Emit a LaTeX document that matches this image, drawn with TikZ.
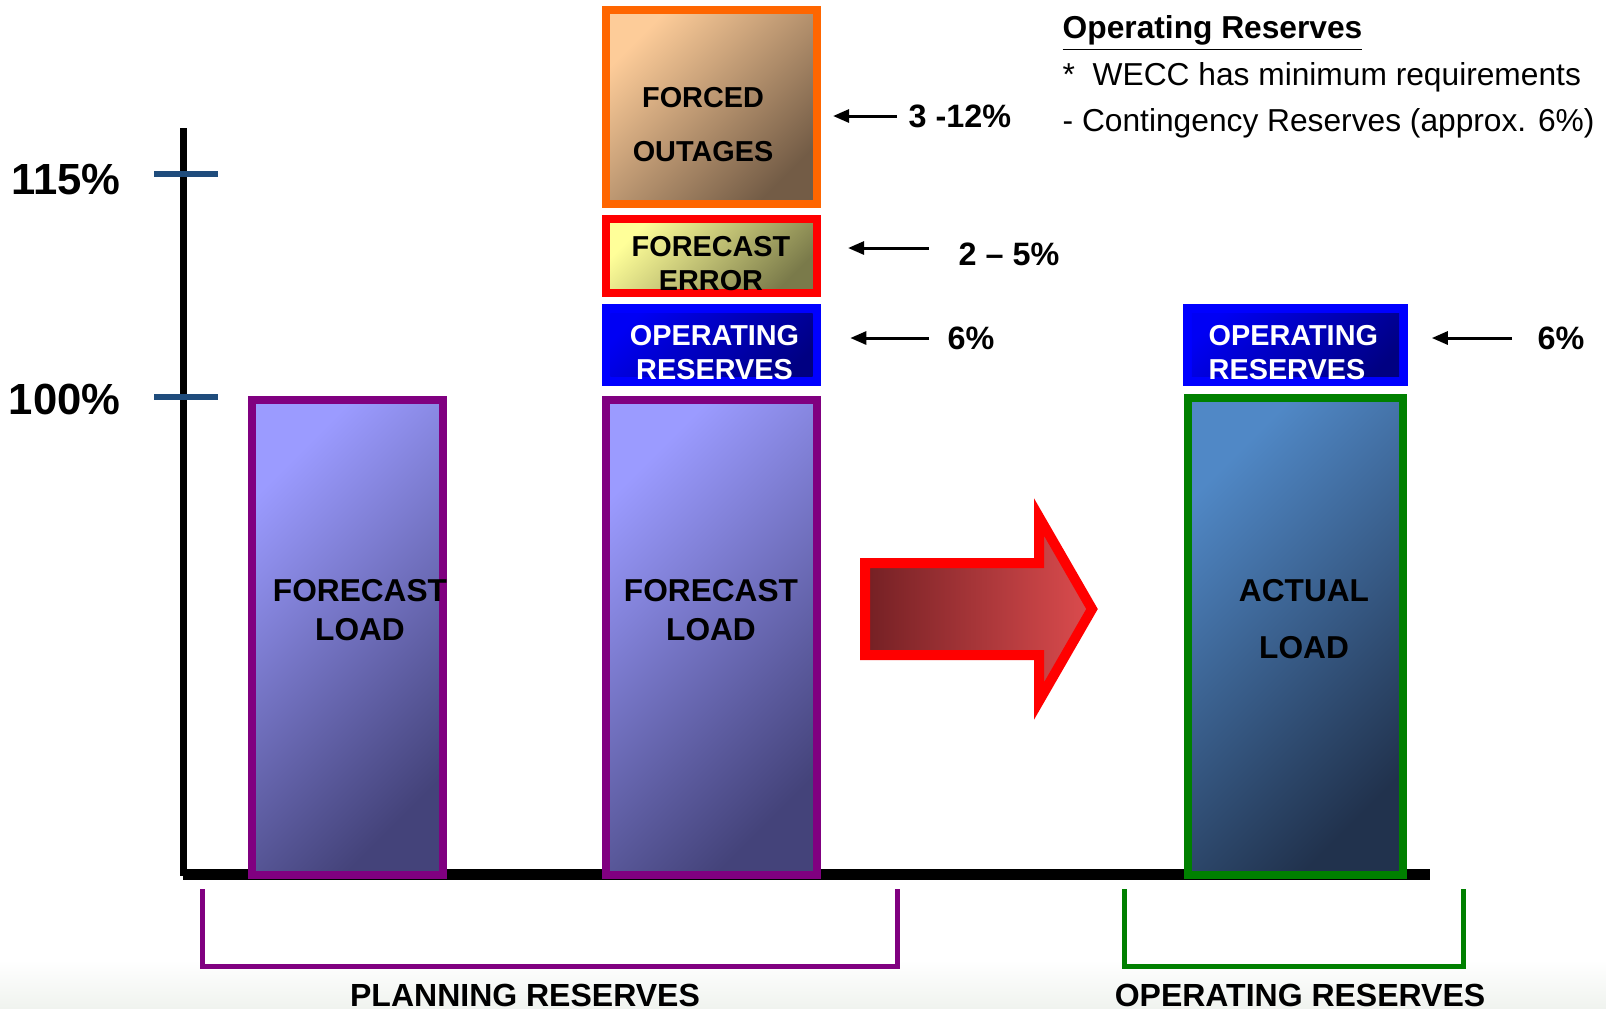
\documentclass[tikz,border=0pt]{standalone}
\usepackage{fontspec}
\setmainfont{Liberation Sans}
\usetikzlibrary{arrows.meta}

\definecolor{plum}{HTML}{800080}
\definecolor{darkgreen}{HTML}{008000}
\definecolor{outage}{HTML}{FF6600}
\definecolor{tickblue}{HTML}{1F4C7C}
\definecolor{flLight}{HTML}{9B9BFF}
\definecolor{flDark}{HTML}{44437A}
\definecolor{alLight}{HTML}{5088C6}
\definecolor{alDark}{HTML}{21324D}
\definecolor{foLight}{HTML}{FDCC99}
\definecolor{foDark}{HTML}{735C46}
\definecolor{feLight}{HTML}{FFFF99}
\definecolor{feDark}{HTML}{7A7A4A}
\definecolor{orLight}{HTML}{0000F4}
\definecolor{orDark}{HTML}{000082}
\definecolor{arDark}{HTML}{742024}
\definecolor{arLight}{HTML}{DC4C4E}
\definecolor{floor}{HTML}{F0F3EF}

\tikzset{
  box/.style={draw, line width=0.08cm, inner sep=0pt},
  loadbar/.style={box, draw=plum, top color=flLight, bottom color=flDark, shading angle=45,
    minimum width=1.91cm, minimum height=4.75cm},
  actualbar/.style={box, draw=darkgreen, top color=alLight, bottom color=alDark, shading angle=45,
    minimum width=2.15cm, minimum height=4.77cm},
  outagebox/.style={box, draw=outage, top color=foLight, bottom color=foDark, shading angle=45,
    minimum width=2.11cm, minimum height=1.94cm},
  errorbox/.style={box, draw=red, top color=feLight, bottom color=feDark, shading angle=45,
    minimum width=2.11cm, minimum height=0.74cm},
  opbox/.style={draw=blue, fill=blue, line width=0.015cm, inner sep=0pt,
    minimum width=2.18cm, minimum height=0.80cm,
    path picture={\shade[top color=orLight, bottom color=orDark, shading angle=45]
      ([xshift=0.08cm,yshift=0.09cm]path picture bounding box.south west) rectangle
      ([xshift=-0.08cm,yshift=-0.09cm]path picture bounding box.north east);}},
  bigarrow/.style={draw=red, line width=0.10cm, left color=arDark, right color=arLight},
  boxtext/.style={align=center, inner sep=0pt, font=\bfseries\fontsize{8.2}{9.7}\selectfont},
  bartext/.style={align=center, inner sep=0pt, font=\bfseries\fontsize{9}{11.1}\selectfont},
  pct/.style={anchor=west, inner sep=0pt, font=\bfseries\fontsize{9.2}{11}\selectfont},
  pctarrow/.style={-{Triangle[length=0.16cm,width=0.13cm]}, line width=0.03cm},
  ticklabel/.style={anchor=east, inner sep=0pt, font=\bfseries\fontsize{12.4}{15}\selectfont},
  note/.style={anchor=base west, inner sep=0pt, font=\fontsize{9.02}{11}\selectfont},
  bracket/.style={line width=0.05cm},
  groupname/.style={anchor=base, inner sep=0pt, font=\bfseries\fontsize{9.1}{11}\selectfont}
}

\begin{document}
\begin{tikzpicture}[x=0.01cm, y=-0.01cm]
  \useasboundingbox (0,0) rectangle (1606,1008);
  \shade[top color=white, bottom color=floor] (0,960) rectangle (1606,1008);

  % axes and ticks
  \coordinate (O) at (183,876);
  \coordinate (ytop) at (183,128);
  \coordinate (xend) at (1430,874);
  \draw[line width=0.07cm] (ytop) -- (O);
  \draw[line width=0.11cm] (O |- xend) -- (xend);
  \draw[tickblue, line width=0.06cm] (154,174) -- (218,174);
  \draw[tickblue, line width=0.06cm] (154,397) -- (218,397);
  \node[ticklabel] (l115) at (121,180) {115\%};
  \node[ticklabel] (l100) at (121,399) {100\%};

  % bars
  \node[loadbar] (fl1) at (347.5,637.5) {};
  \node[loadbar, minimum width=2.11cm] (fl2) at (711.5,637.5) {};
  \node[opbox] (or2) at (711.5,345) {};
  \node[errorbox] (fe) at (711.5,256) {};
  \node[outagebox] (fo) at (711.5,107) {};
  \node[actualbar] (al) at (1295.5,636.5) {};
  \node[opbox, minimum width=2.23cm] (or3) at (1295.5,345) {};

  \node[bartext] (fl1txt) at (360,610.5) {FORECAST\\LOAD};
  \node[bartext] (fl2txt) at (711,610.5) {FORECAST\\LOAD};
  \node[bartext, font=\bfseries\fontsize{9}{16.2}\selectfont] (altxt) at (1304,619.5) {ACTUAL\\LOAD};
  \node[boxtext, text=white] (or2txt) at (714.5,352.5) {OPERATING\\RESERVES};
  \node[boxtext, text=white, align=left, anchor=west] (or3txt) at (1208,352.5) {OPERATING\\RESERVES};
  \node[boxtext] (fetxt) at (711,264) {FORECAST\\ERROR};
  \node[boxtext, font=\bfseries\fontsize{8.2}{15.4}\selectfont] (fotxt) at (703,124.5) {FORCED\\OUTAGES};

  % shift from plan to operation
  \draw[bigarrow] (865,563) -- (1039,563) -- (1039,517) -- (1092,609)
    -- (1039,701) -- (1039,655) -- (865,655) -- cycle;

  % percentages
  \node[pct] (pfo) at (908,116) {3 -12\%};
  \node[pct] (pfe) at (958,254) {2 -- 5\%};
  \node[pct] (por2) at (947,338) {6\%};
  \node[pct] (por3) at (1537,338) {6\%};
  \draw[pctarrow, shorten <=0.11cm, shorten >=0.12cm] (pfo.west) -- (pfo.west -| fo.east);
  \draw[pctarrow, shorten <=0.29cm, shorten >=0.27cm]
    ([yshift=0.06cm]pfe.west) -- ([yshift=0.06cm]pfe.west -| fe.east);
  \draw[pctarrow, shorten <=0.18cm, shorten >=0.29cm] (por2.west) -- (por2.west -| or2.east);
  \draw[pctarrow, shorten <=0.25cm, shorten >=0.24cm] (por3.west) -- (por3.west -| or3.east);

  % notes
  \node[note, font=\bfseries\fontsize{9.02}{11}\selectfont] (n1) at (1062,38) {\underline{Operating Reserves}};
  \node[note] (n2) at (1062,85) {*~~WECC has minimum requirements};
  \node[note] (n3) at (1062,131) {- Contingency Reserves (approx. 6\%)};

  % groups
  \draw[bracket, plum] (202,889) -- (202,966) -- (897,966) -- (897,889);
  \draw[bracket, darkgreen] (1124,889) -- (1124,966) -- (1463,966) -- (1463,889);
  \node[groupname] (plan) at (525,1006) {PLANNING RESERVES};
  \node[groupname] (oper) at (1300,1006) {OPERATING RESERVES};
\end{tikzpicture}
\end{document}
